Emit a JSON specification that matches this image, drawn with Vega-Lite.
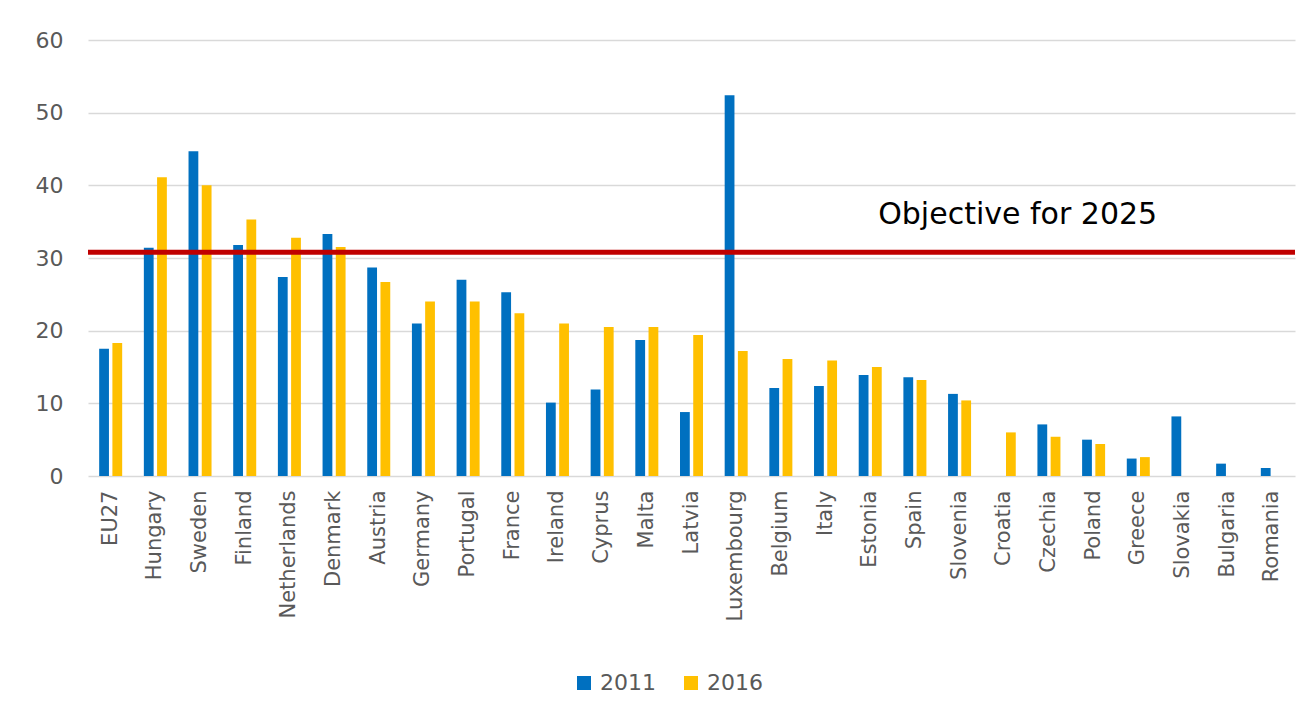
{
  "$schema": "https://vega.github.io/schema/vega-lite/v6.json",
  "autosize": {"type": "none"},
  "padding": {"left": 88, "top": 40, "right": 10, "bottom": 245},
  "width": 1207,
  "height": 436,
  "background": "white",
  "config": {
    "font": "DejaVu Sans",
    "view": {"stroke": null}
  },
  "layer": [
    {
      "data": {
        "values": [
          {"country": "EU27", "year": "2011", "value": 17.5},
          {"country": "EU27", "year": "2016", "value": 18.3},
          {"country": "Hungary", "year": "2011", "value": 31.4},
          {"country": "Hungary", "year": "2016", "value": 41.1},
          {"country": "Sweden", "year": "2011", "value": 44.7},
          {"country": "Sweden", "year": "2016", "value": 40.0},
          {"country": "Finland", "year": "2011", "value": 31.8},
          {"country": "Finland", "year": "2016", "value": 35.3},
          {"country": "Netherlands", "year": "2011", "value": 27.4},
          {"country": "Netherlands", "year": "2016", "value": 32.8},
          {"country": "Denmark", "year": "2011", "value": 33.3},
          {"country": "Denmark", "year": "2016", "value": 31.5},
          {"country": "Austria", "year": "2011", "value": 28.7},
          {"country": "Austria", "year": "2016", "value": 26.7},
          {"country": "Germany", "year": "2011", "value": 21.0},
          {"country": "Germany", "year": "2016", "value": 24.0},
          {"country": "Portugal", "year": "2011", "value": 27.0},
          {"country": "Portugal", "year": "2016", "value": 24.0},
          {"country": "France", "year": "2011", "value": 25.3},
          {"country": "France", "year": "2016", "value": 22.4},
          {"country": "Ireland", "year": "2011", "value": 10.1},
          {"country": "Ireland", "year": "2016", "value": 21.0},
          {"country": "Cyprus", "year": "2011", "value": 11.9},
          {"country": "Cyprus", "year": "2016", "value": 20.5},
          {"country": "Malta", "year": "2011", "value": 18.7},
          {"country": "Malta", "year": "2016", "value": 20.5},
          {"country": "Latvia", "year": "2011", "value": 8.8},
          {"country": "Latvia", "year": "2016", "value": 19.4},
          {"country": "Luxembourg", "year": "2011", "value": 52.4},
          {"country": "Luxembourg", "year": "2016", "value": 17.2},
          {"country": "Belgium", "year": "2011", "value": 12.1},
          {"country": "Belgium", "year": "2016", "value": 16.1},
          {"country": "Italy", "year": "2011", "value": 12.4},
          {"country": "Italy", "year": "2016", "value": 15.9},
          {"country": "Estonia", "year": "2011", "value": 13.9},
          {"country": "Estonia", "year": "2016", "value": 15.0},
          {"country": "Spain", "year": "2011", "value": 13.6},
          {"country": "Spain", "year": "2016", "value": 13.2},
          {"country": "Slovenia", "year": "2011", "value": 11.3},
          {"country": "Slovenia", "year": "2016", "value": 10.4},
          {"country": "Croatia", "year": "2016", "value": 6.0},
          {"country": "Czechia", "year": "2011", "value": 7.1},
          {"country": "Czechia", "year": "2016", "value": 5.4},
          {"country": "Poland", "year": "2011", "value": 5.0},
          {"country": "Poland", "year": "2016", "value": 4.4},
          {"country": "Greece", "year": "2011", "value": 2.4},
          {"country": "Greece", "year": "2016", "value": 2.6},
          {"country": "Slovakia", "year": "2011", "value": 8.2},
          {"country": "Bulgaria", "year": "2011", "value": 1.7},
          {"country": "Romania", "year": "2011", "value": 1.1}
        ]
      },
      "mark": {"type": "bar"},
      "encoding": {
        "x": {
          "field": "country",
          "type": "nominal",
          "scale": {
            "domain": ["EU27", "Hungary", "Sweden", "Finland", "Netherlands", "Denmark", "Austria", "Germany", "Portugal", "France", "Ireland", "Cyprus", "Malta", "Latvia", "Luxembourg", "Belgium", "Italy", "Estonia", "Spain", "Slovenia", "Croatia", "Czechia", "Poland", "Greece", "Slovakia", "Bulgaria", "Romania"],
            "paddingInner": 0.485,
            "paddingOuter": 0.25
          },
          "axis": {
            "title": null,
            "labelAngle": 270,
            "labelAlign": "right",
            "labelBaseline": "middle",
            "labelPadding": 14,
            "labelFontSize": 21,
            "labelColor": "#595959",
            "ticks": false,
            "domain": false,
            "grid": false
          }
        },
        "xOffset": {
          "field": "year",
          "type": "nominal",
          "scale": {"paddingInner": 0.26, "paddingOuter": 0},
          "sort": ["2011", "2016"]
        },
        "y": {
          "field": "value",
          "type": "quantitative",
          "scale": {"domain": [0, 60], "nice": false},
          "axis": {
            "title": null,
            "values": [0, 10, 20, 30, 40, 50, 60],
            "labelFontSize": 22,
            "labelColor": "#595959",
            "labelPadding": 25,
            "ticks": false,
            "domain": false,
            "grid": true,
            "gridColor": "#D9D9D9",
            "gridWidth": 1.5
          }
        },
        "color": {
          "field": "year",
          "type": "nominal",
          "scale": {"domain": ["2011", "2016"], "range": ["#0070C0", "#FFC000"]},
          "legend": {
            "title": null,
            "orient": "none",
            "direction": "horizontal",
            "legendX": 485,
            "legendY": 632,
            "symbolType": "square",
            "symbolSize": 196,
            "symbolStrokeWidth": 0,
            "labelFontSize": 22,
            "labelColor": "#595959",
            "labelOffset": 5,
            "columnPadding": 24,
            "padding": 0
          }
        }
      }
    },
    {
      "data": {"values": [{"objective": 30.8}]},
      "mark": {"type": "rule", "color": "#C00000", "strokeWidth": 5},
      "encoding": {
        "y": {"field": "objective", "type": "quantitative"}
      }
    },
    {
      "data": {"values": [{"label": "Objective for 2025", "country": "Estonia", "yv": 35.9}]},
      "mark": {"type": "text", "align": "left", "baseline": "middle", "fontSize": 30, "color": "#000000", "dx": 8},
      "encoding": {
        "x": {"field": "country", "type": "nominal"},
        "y": {"field": "yv", "type": "quantitative"},
        "text": {"field": "label"}
      }
    }
  ]
}
